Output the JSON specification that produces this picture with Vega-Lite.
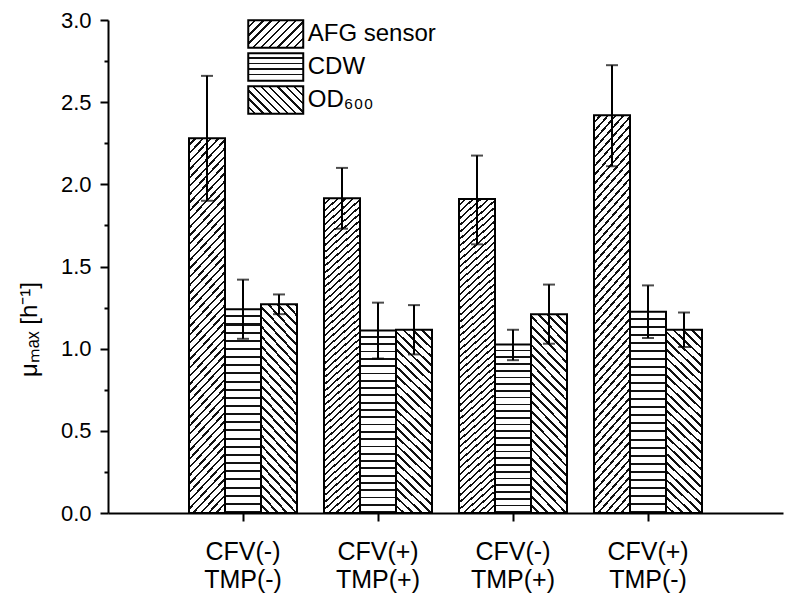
{
  "$schema": "https://vega.github.io/schema/vega-lite/v6.json",
  "width": 675,
  "height": 493,
  "autosize": {"type": "none"},
  "padding": {"left": 108, "top": 20, "right": 12, "bottom": 101},
  "background": "white",
  "config": {"view": {"stroke": null}, "font": "Liberation Sans"},
  "params": [
    {"name": "gAFG", "value": {"gradient": "linear", "x1": 0, "y1": 0, "x2": 0.1125, "y2": 1.0915, "stops": [
      {"offset":0,"color":"#fff"},{"offset":0.014,"color":"#fff"},{"offset":0.014,"color":"#111"},{"offset":0.02,"color":"#111"},
      {"offset":0.02,"color":"#fff"},{"offset":0.034,"color":"#fff"},{"offset":0.034,"color":"#111"},{"offset":0.04,"color":"#111"},
      {"offset":0.04,"color":"#fff"},{"offset":0.054,"color":"#fff"},{"offset":0.054,"color":"#111"},{"offset":0.06,"color":"#111"},
      {"offset":0.06,"color":"#fff"},{"offset":0.074,"color":"#fff"},{"offset":0.074,"color":"#111"},{"offset":0.08,"color":"#111"},
      {"offset":0.08,"color":"#fff"},{"offset":0.094,"color":"#fff"},{"offset":0.094,"color":"#111"},{"offset":0.1,"color":"#111"},
      {"offset":0.1,"color":"#fff"},{"offset":0.114,"color":"#fff"},{"offset":0.114,"color":"#111"},{"offset":0.12,"color":"#111"},
      {"offset":0.12,"color":"#fff"},{"offset":0.134,"color":"#fff"},{"offset":0.134,"color":"#111"},{"offset":0.14,"color":"#111"},
      {"offset":0.14,"color":"#fff"},{"offset":0.154,"color":"#fff"},{"offset":0.154,"color":"#111"},{"offset":0.16,"color":"#111"},
      {"offset":0.16,"color":"#fff"},{"offset":0.174,"color":"#fff"},{"offset":0.174,"color":"#111"},{"offset":0.18,"color":"#111"},
      {"offset":0.18,"color":"#fff"},{"offset":0.194,"color":"#fff"},{"offset":0.194,"color":"#111"},{"offset":0.2,"color":"#111"},
      {"offset":0.2,"color":"#fff"},{"offset":0.214,"color":"#fff"},{"offset":0.214,"color":"#111"},{"offset":0.22,"color":"#111"},
      {"offset":0.22,"color":"#fff"},{"offset":0.234,"color":"#fff"},{"offset":0.234,"color":"#111"},{"offset":0.24,"color":"#111"},
      {"offset":0.24,"color":"#fff"},{"offset":0.254,"color":"#fff"},{"offset":0.254,"color":"#111"},{"offset":0.26,"color":"#111"},
      {"offset":0.26,"color":"#fff"},{"offset":0.274,"color":"#fff"},{"offset":0.274,"color":"#111"},{"offset":0.28,"color":"#111"},
      {"offset":0.28,"color":"#fff"},{"offset":0.294,"color":"#fff"},{"offset":0.294,"color":"#111"},{"offset":0.3,"color":"#111"},
      {"offset":0.3,"color":"#fff"},{"offset":0.314,"color":"#fff"},{"offset":0.314,"color":"#111"},{"offset":0.32,"color":"#111"},
      {"offset":0.32,"color":"#fff"},{"offset":0.334,"color":"#fff"},{"offset":0.334,"color":"#111"},{"offset":0.34,"color":"#111"},
      {"offset":0.34,"color":"#fff"},{"offset":0.354,"color":"#fff"},{"offset":0.354,"color":"#111"},{"offset":0.36,"color":"#111"},
      {"offset":0.36,"color":"#fff"},{"offset":0.374,"color":"#fff"},{"offset":0.374,"color":"#111"},{"offset":0.38,"color":"#111"},
      {"offset":0.38,"color":"#fff"},{"offset":0.394,"color":"#fff"},{"offset":0.394,"color":"#111"},{"offset":0.4,"color":"#111"},
      {"offset":0.4,"color":"#fff"},{"offset":0.414,"color":"#fff"},{"offset":0.414,"color":"#111"},{"offset":0.42,"color":"#111"},
      {"offset":0.42,"color":"#fff"},{"offset":0.434,"color":"#fff"},{"offset":0.434,"color":"#111"},{"offset":0.44,"color":"#111"},
      {"offset":0.44,"color":"#fff"},{"offset":0.454,"color":"#fff"},{"offset":0.454,"color":"#111"},{"offset":0.46,"color":"#111"},
      {"offset":0.46,"color":"#fff"},{"offset":0.474,"color":"#fff"},{"offset":0.474,"color":"#111"},{"offset":0.48,"color":"#111"},
      {"offset":0.48,"color":"#fff"},{"offset":0.494,"color":"#fff"},{"offset":0.494,"color":"#111"},{"offset":0.5,"color":"#111"},
      {"offset":0.5,"color":"#fff"},{"offset":0.514,"color":"#fff"},{"offset":0.514,"color":"#111"},{"offset":0.52,"color":"#111"},
      {"offset":0.52,"color":"#fff"},{"offset":0.534,"color":"#fff"},{"offset":0.534,"color":"#111"},{"offset":0.54,"color":"#111"},
      {"offset":0.54,"color":"#fff"},{"offset":0.554,"color":"#fff"},{"offset":0.554,"color":"#111"},{"offset":0.56,"color":"#111"},
      {"offset":0.56,"color":"#fff"},{"offset":0.574,"color":"#fff"},{"offset":0.574,"color":"#111"},{"offset":0.58,"color":"#111"},
      {"offset":0.58,"color":"#fff"},{"offset":0.594,"color":"#fff"},{"offset":0.594,"color":"#111"},{"offset":0.6,"color":"#111"},
      {"offset":0.6,"color":"#fff"},{"offset":0.614,"color":"#fff"},{"offset":0.614,"color":"#111"},{"offset":0.62,"color":"#111"},
      {"offset":0.62,"color":"#fff"},{"offset":0.634,"color":"#fff"},{"offset":0.634,"color":"#111"},{"offset":0.64,"color":"#111"},
      {"offset":0.64,"color":"#fff"},{"offset":0.654,"color":"#fff"},{"offset":0.654,"color":"#111"},{"offset":0.66,"color":"#111"},
      {"offset":0.66,"color":"#fff"},{"offset":0.674,"color":"#fff"},{"offset":0.674,"color":"#111"},{"offset":0.68,"color":"#111"},
      {"offset":0.68,"color":"#fff"},{"offset":0.694,"color":"#fff"},{"offset":0.694,"color":"#111"},{"offset":0.7,"color":"#111"},
      {"offset":0.7,"color":"#fff"},{"offset":0.714,"color":"#fff"},{"offset":0.714,"color":"#111"},{"offset":0.72,"color":"#111"},
      {"offset":0.72,"color":"#fff"},{"offset":0.734,"color":"#fff"},{"offset":0.734,"color":"#111"},{"offset":0.74,"color":"#111"},
      {"offset":0.74,"color":"#fff"},{"offset":0.754,"color":"#fff"},{"offset":0.754,"color":"#111"},{"offset":0.76,"color":"#111"},
      {"offset":0.76,"color":"#fff"},{"offset":0.774,"color":"#fff"},{"offset":0.774,"color":"#111"},{"offset":0.78,"color":"#111"},
      {"offset":0.78,"color":"#fff"},{"offset":0.794,"color":"#fff"},{"offset":0.794,"color":"#111"},{"offset":0.8,"color":"#111"},
      {"offset":0.8,"color":"#fff"},{"offset":0.814,"color":"#fff"},{"offset":0.814,"color":"#111"},{"offset":0.82,"color":"#111"},
      {"offset":0.82,"color":"#fff"},{"offset":0.834,"color":"#fff"},{"offset":0.834,"color":"#111"},{"offset":0.84,"color":"#111"},
      {"offset":0.84,"color":"#fff"},{"offset":0.854,"color":"#fff"},{"offset":0.854,"color":"#111"},{"offset":0.86,"color":"#111"},
      {"offset":0.86,"color":"#fff"},{"offset":0.874,"color":"#fff"},{"offset":0.874,"color":"#111"},{"offset":0.88,"color":"#111"},
      {"offset":0.88,"color":"#fff"},{"offset":0.894,"color":"#fff"},{"offset":0.894,"color":"#111"},{"offset":0.9,"color":"#111"},
      {"offset":0.9,"color":"#fff"},{"offset":0.914,"color":"#fff"},{"offset":0.914,"color":"#111"},{"offset":0.92,"color":"#111"},
      {"offset":0.92,"color":"#fff"},{"offset":0.934,"color":"#fff"},{"offset":0.934,"color":"#111"},{"offset":0.94,"color":"#111"},
      {"offset":0.94,"color":"#fff"},{"offset":0.954,"color":"#fff"},{"offset":0.954,"color":"#111"},{"offset":0.96,"color":"#111"},
      {"offset":0.96,"color":"#fff"},{"offset":0.974,"color":"#fff"},{"offset":0.974,"color":"#111"},{"offset":0.98,"color":"#111"},
      {"offset":0.98,"color":"#fff"},{"offset":0.994,"color":"#fff"},{"offset":0.994,"color":"#111"},{"offset":1,"color":"#111"}
    ]}},
    {"name": "gCDW", "value": {"gradient": "linear", "x1": 0, "y1": 0, "x2": 0, "y2": 1, "stops": [
      {"offset":0,"color":"#fff"},{"offset":0.03,"color":"#fff"},{"offset":0.03,"color":"#111"},{"offset":0.04,"color":"#111"},
      {"offset":0.04,"color":"#fff"},{"offset":0.07,"color":"#fff"},{"offset":0.07,"color":"#111"},{"offset":0.08,"color":"#111"},
      {"offset":0.08,"color":"#fff"},{"offset":0.11,"color":"#fff"},{"offset":0.11,"color":"#111"},{"offset":0.12,"color":"#111"},
      {"offset":0.12,"color":"#fff"},{"offset":0.15,"color":"#fff"},{"offset":0.15,"color":"#111"},{"offset":0.16,"color":"#111"},
      {"offset":0.16,"color":"#fff"},{"offset":0.19,"color":"#fff"},{"offset":0.19,"color":"#111"},{"offset":0.2,"color":"#111"},
      {"offset":0.2,"color":"#fff"},{"offset":0.23,"color":"#fff"},{"offset":0.23,"color":"#111"},{"offset":0.24,"color":"#111"},
      {"offset":0.24,"color":"#fff"},{"offset":0.27,"color":"#fff"},{"offset":0.27,"color":"#111"},{"offset":0.28,"color":"#111"},
      {"offset":0.28,"color":"#fff"},{"offset":0.31,"color":"#fff"},{"offset":0.31,"color":"#111"},{"offset":0.32,"color":"#111"},
      {"offset":0.32,"color":"#fff"},{"offset":0.35,"color":"#fff"},{"offset":0.35,"color":"#111"},{"offset":0.36,"color":"#111"},
      {"offset":0.36,"color":"#fff"},{"offset":0.39,"color":"#fff"},{"offset":0.39,"color":"#111"},{"offset":0.4,"color":"#111"},
      {"offset":0.4,"color":"#fff"},{"offset":0.43,"color":"#fff"},{"offset":0.43,"color":"#111"},{"offset":0.44,"color":"#111"},
      {"offset":0.44,"color":"#fff"},{"offset":0.47,"color":"#fff"},{"offset":0.47,"color":"#111"},{"offset":0.48,"color":"#111"},
      {"offset":0.48,"color":"#fff"},{"offset":0.51,"color":"#fff"},{"offset":0.51,"color":"#111"},{"offset":0.52,"color":"#111"},
      {"offset":0.52,"color":"#fff"},{"offset":0.55,"color":"#fff"},{"offset":0.55,"color":"#111"},{"offset":0.56,"color":"#111"},
      {"offset":0.56,"color":"#fff"},{"offset":0.59,"color":"#fff"},{"offset":0.59,"color":"#111"},{"offset":0.6,"color":"#111"},
      {"offset":0.6,"color":"#fff"},{"offset":0.63,"color":"#fff"},{"offset":0.63,"color":"#111"},{"offset":0.64,"color":"#111"},
      {"offset":0.64,"color":"#fff"},{"offset":0.67,"color":"#fff"},{"offset":0.67,"color":"#111"},{"offset":0.68,"color":"#111"},
      {"offset":0.68,"color":"#fff"},{"offset":0.71,"color":"#fff"},{"offset":0.71,"color":"#111"},{"offset":0.72,"color":"#111"},
      {"offset":0.72,"color":"#fff"},{"offset":0.75,"color":"#fff"},{"offset":0.75,"color":"#111"},{"offset":0.76,"color":"#111"},
      {"offset":0.76,"color":"#fff"},{"offset":0.79,"color":"#fff"},{"offset":0.79,"color":"#111"},{"offset":0.8,"color":"#111"},
      {"offset":0.8,"color":"#fff"},{"offset":0.83,"color":"#fff"},{"offset":0.83,"color":"#111"},{"offset":0.84,"color":"#111"},
      {"offset":0.84,"color":"#fff"},{"offset":0.87,"color":"#fff"},{"offset":0.87,"color":"#111"},{"offset":0.88,"color":"#111"},
      {"offset":0.88,"color":"#fff"},{"offset":0.91,"color":"#fff"},{"offset":0.91,"color":"#111"},{"offset":0.92,"color":"#111"},
      {"offset":0.92,"color":"#fff"},{"offset":0.95,"color":"#fff"},{"offset":0.95,"color":"#111"},{"offset":0.96,"color":"#111"},
      {"offset":0.96,"color":"#fff"},{"offset":0.99,"color":"#fff"},{"offset":0.99,"color":"#111"},{"offset":1,"color":"#111"}
    ]}},
    {"name": "gOD", "value": {"gradient": "linear", "x1": 0, "y1": 1, "x2": 0.2139, "y2": -0.1467, "stops": [
      {"offset":0,"color":"#fff"},{"offset":0.028,"color":"#fff"},{"offset":0.028,"color":"#111"},{"offset":0.04,"color":"#111"},
      {"offset":0.04,"color":"#fff"},{"offset":0.068,"color":"#fff"},{"offset":0.068,"color":"#111"},{"offset":0.08,"color":"#111"},
      {"offset":0.08,"color":"#fff"},{"offset":0.108,"color":"#fff"},{"offset":0.108,"color":"#111"},{"offset":0.12,"color":"#111"},
      {"offset":0.12,"color":"#fff"},{"offset":0.148,"color":"#fff"},{"offset":0.148,"color":"#111"},{"offset":0.16,"color":"#111"},
      {"offset":0.16,"color":"#fff"},{"offset":0.188,"color":"#fff"},{"offset":0.188,"color":"#111"},{"offset":0.2,"color":"#111"},
      {"offset":0.2,"color":"#fff"},{"offset":0.228,"color":"#fff"},{"offset":0.228,"color":"#111"},{"offset":0.24,"color":"#111"},
      {"offset":0.24,"color":"#fff"},{"offset":0.268,"color":"#fff"},{"offset":0.268,"color":"#111"},{"offset":0.28,"color":"#111"},
      {"offset":0.28,"color":"#fff"},{"offset":0.308,"color":"#fff"},{"offset":0.308,"color":"#111"},{"offset":0.32,"color":"#111"},
      {"offset":0.32,"color":"#fff"},{"offset":0.348,"color":"#fff"},{"offset":0.348,"color":"#111"},{"offset":0.36,"color":"#111"},
      {"offset":0.36,"color":"#fff"},{"offset":0.388,"color":"#fff"},{"offset":0.388,"color":"#111"},{"offset":0.4,"color":"#111"},
      {"offset":0.4,"color":"#fff"},{"offset":0.428,"color":"#fff"},{"offset":0.428,"color":"#111"},{"offset":0.44,"color":"#111"},
      {"offset":0.44,"color":"#fff"},{"offset":0.468,"color":"#fff"},{"offset":0.468,"color":"#111"},{"offset":0.48,"color":"#111"},
      {"offset":0.48,"color":"#fff"},{"offset":0.508,"color":"#fff"},{"offset":0.508,"color":"#111"},{"offset":0.52,"color":"#111"},
      {"offset":0.52,"color":"#fff"},{"offset":0.548,"color":"#fff"},{"offset":0.548,"color":"#111"},{"offset":0.56,"color":"#111"},
      {"offset":0.56,"color":"#fff"},{"offset":0.588,"color":"#fff"},{"offset":0.588,"color":"#111"},{"offset":0.6,"color":"#111"},
      {"offset":0.6,"color":"#fff"},{"offset":0.628,"color":"#fff"},{"offset":0.628,"color":"#111"},{"offset":0.64,"color":"#111"},
      {"offset":0.64,"color":"#fff"},{"offset":0.668,"color":"#fff"},{"offset":0.668,"color":"#111"},{"offset":0.68,"color":"#111"},
      {"offset":0.68,"color":"#fff"},{"offset":0.708,"color":"#fff"},{"offset":0.708,"color":"#111"},{"offset":0.72,"color":"#111"},
      {"offset":0.72,"color":"#fff"},{"offset":0.748,"color":"#fff"},{"offset":0.748,"color":"#111"},{"offset":0.76,"color":"#111"},
      {"offset":0.76,"color":"#fff"},{"offset":0.788,"color":"#fff"},{"offset":0.788,"color":"#111"},{"offset":0.8,"color":"#111"},
      {"offset":0.8,"color":"#fff"},{"offset":0.828,"color":"#fff"},{"offset":0.828,"color":"#111"},{"offset":0.84,"color":"#111"},
      {"offset":0.84,"color":"#fff"},{"offset":0.868,"color":"#fff"},{"offset":0.868,"color":"#111"},{"offset":0.88,"color":"#111"},
      {"offset":0.88,"color":"#fff"},{"offset":0.908,"color":"#fff"},{"offset":0.908,"color":"#111"},{"offset":0.92,"color":"#111"},
      {"offset":0.92,"color":"#fff"},{"offset":0.948,"color":"#fff"},{"offset":0.948,"color":"#111"},{"offset":0.96,"color":"#111"},
      {"offset":0.96,"color":"#fff"},{"offset":0.988,"color":"#fff"},{"offset":0.988,"color":"#111"},{"offset":1,"color":"#111"}
    ]}},
    {"name": "lAFG", "value": {"gradient": "linear", "x1": 0, "y1": 0, "x2": 1.2, "y2": 0.6, "stops": [
      {"offset":0,"color":"#fff"},{"offset":0.07,"color":"#fff"},{"offset":0.07,"color":"#111"},{"offset":0.1,"color":"#111"},
      {"offset":0.1,"color":"#fff"},{"offset":0.17,"color":"#fff"},{"offset":0.17,"color":"#111"},{"offset":0.2,"color":"#111"},
      {"offset":0.2,"color":"#fff"},{"offset":0.27,"color":"#fff"},{"offset":0.27,"color":"#111"},{"offset":0.3,"color":"#111"},
      {"offset":0.3,"color":"#fff"},{"offset":0.37,"color":"#fff"},{"offset":0.37,"color":"#111"},{"offset":0.4,"color":"#111"},
      {"offset":0.4,"color":"#fff"},{"offset":0.47,"color":"#fff"},{"offset":0.47,"color":"#111"},{"offset":0.5,"color":"#111"},
      {"offset":0.5,"color":"#fff"},{"offset":0.57,"color":"#fff"},{"offset":0.57,"color":"#111"},{"offset":0.6,"color":"#111"},
      {"offset":0.6,"color":"#fff"},{"offset":0.67,"color":"#fff"},{"offset":0.67,"color":"#111"},{"offset":0.7,"color":"#111"},
      {"offset":0.7,"color":"#fff"},{"offset":0.77,"color":"#fff"},{"offset":0.77,"color":"#111"},{"offset":0.8,"color":"#111"},
      {"offset":0.8,"color":"#fff"},{"offset":0.87,"color":"#fff"},{"offset":0.87,"color":"#111"},{"offset":0.9,"color":"#111"},
      {"offset":0.9,"color":"#fff"},{"offset":0.97,"color":"#fff"},{"offset":0.97,"color":"#111"},{"offset":1,"color":"#111"}
    ]}},
    {"name": "lCDW", "value": {"gradient": "linear", "x1": 0, "y1": 0, "x2": 0, "y2": 1, "stops": [
      {"offset":0,"color":"#fff"},{"offset":0.15,"color":"#fff"},{"offset":0.15,"color":"#111"},{"offset":0.2,"color":"#111"},
      {"offset":0.2,"color":"#fff"},{"offset":0.35,"color":"#fff"},{"offset":0.35,"color":"#111"},{"offset":0.4,"color":"#111"},
      {"offset":0.4,"color":"#fff"},{"offset":0.55,"color":"#fff"},{"offset":0.55,"color":"#111"},{"offset":0.6,"color":"#111"},
      {"offset":0.6,"color":"#fff"},{"offset":0.75,"color":"#fff"},{"offset":0.75,"color":"#111"},{"offset":0.8,"color":"#111"},
      {"offset":0.8,"color":"#fff"},{"offset":1,"color":"#fff"}
    ]}},
    {"name": "lOD", "value": {"gradient": "linear", "x1": 0, "y1": 1, "x2": 1.2, "y2": 0.4, "stops": [
      {"offset":0,"color":"#fff"},{"offset":0.07,"color":"#fff"},{"offset":0.07,"color":"#111"},{"offset":0.1,"color":"#111"},
      {"offset":0.1,"color":"#fff"},{"offset":0.17,"color":"#fff"},{"offset":0.17,"color":"#111"},{"offset":0.2,"color":"#111"},
      {"offset":0.2,"color":"#fff"},{"offset":0.27,"color":"#fff"},{"offset":0.27,"color":"#111"},{"offset":0.3,"color":"#111"},
      {"offset":0.3,"color":"#fff"},{"offset":0.37,"color":"#fff"},{"offset":0.37,"color":"#111"},{"offset":0.4,"color":"#111"},
      {"offset":0.4,"color":"#fff"},{"offset":0.47,"color":"#fff"},{"offset":0.47,"color":"#111"},{"offset":0.5,"color":"#111"},
      {"offset":0.5,"color":"#fff"},{"offset":0.57,"color":"#fff"},{"offset":0.57,"color":"#111"},{"offset":0.6,"color":"#111"},
      {"offset":0.6,"color":"#fff"},{"offset":0.67,"color":"#fff"},{"offset":0.67,"color":"#111"},{"offset":0.7,"color":"#111"},
      {"offset":0.7,"color":"#fff"},{"offset":0.77,"color":"#fff"},{"offset":0.77,"color":"#111"},{"offset":0.8,"color":"#111"},
      {"offset":0.8,"color":"#fff"},{"offset":0.87,"color":"#fff"},{"offset":0.87,"color":"#111"},{"offset":0.9,"color":"#111"},
      {"offset":0.9,"color":"#fff"},{"offset":0.97,"color":"#fff"},{"offset":0.97,"color":"#111"},{"offset":1,"color":"#111"}
    ]}}
  ],
  "data": {"values": [
    {"group": "CFV(-) TMP(-)", "series": "AFG sensor", "value": 2.28, "lo": 1.90, "hi": 2.66},
    {"group": "CFV(-) TMP(-)", "series": "CDW", "value": 1.24, "lo": 1.06, "hi": 1.42},
    {"group": "CFV(-) TMP(-)", "series": "OD₆₀₀", "value": 1.27, "lo": 1.21, "hi": 1.33},
    {"group": "CFV(+) TMP(+)", "series": "AFG sensor", "value": 1.915, "lo": 1.73, "hi": 2.10},
    {"group": "CFV(+) TMP(+)", "series": "CDW", "value": 1.11, "lo": 0.94, "hi": 1.28},
    {"group": "CFV(+) TMP(+)", "series": "OD₆₀₀", "value": 1.115, "lo": 0.965, "hi": 1.265},
    {"group": "CFV(-) TMP(+)", "series": "AFG sensor", "value": 1.91, "lo": 1.635, "hi": 2.175},
    {"group": "CFV(-) TMP(+)", "series": "CDW", "value": 1.025, "lo": 0.93, "hi": 1.115},
    {"group": "CFV(-) TMP(+)", "series": "OD₆₀₀", "value": 1.21, "lo": 1.03, "hi": 1.39},
    {"group": "CFV(+) TMP(-)", "series": "AFG sensor", "value": 2.42, "lo": 2.11, "hi": 2.725},
    {"group": "CFV(+) TMP(-)", "series": "CDW", "value": 1.225, "lo": 1.065, "hi": 1.385},
    {"group": "CFV(+) TMP(-)", "series": "OD₆₀₀", "value": 1.115, "lo": 1.01, "hi": 1.22}
  ]},
  "encoding": {
    "x": {
      "field": "group", "type": "nominal", "sort": null,
      "scale": {"paddingInner": 0, "paddingOuter": 0.5},
      "axis": {
        "title": null, "labelAngle": 0, "labelExpr": "split(datum.label, ' ')",
        "labelFontSize": 25, "labelColor": "black", "labelLineHeight": 28,
        "labelPadding": 18, "labelBaseline": "top", "tickSize": 8, "tickColor": "black", "tickWidth": 2,
        "domainColor": "black", "domainWidth": 2, "bandPosition": 0.5, "labelOverlap": false
      }
    },
    "xOffset": {
      "field": "series", "type": "nominal", "sort": null,
      "scale": {"domain": ["AFG sensor", "CDW", "OD₆₀₀"], "paddingInner": 0, "paddingOuter": 0.375}
    }
  },
  "resolve": {"scale": {"fill": "independent"}, "legend": {"fill": "independent"}},
  "layer": [
    {
      "mark": {"type": "bar", "stroke": "black", "strokeWidth": 2},
      "encoding": {
        "y": {
          "field": "value", "type": "quantitative",
          "scale": {"domain": [0, 3], "nice": false},
          "axis": {
            "title": "μₘₐₓ [h⁻¹]",
            "values": [0, 0.25, 0.5, 0.75, 1, 1.25, 1.5, 1.75, 2, 2.25, 2.5, 2.75, 3],
            "labelExpr": "datum.value % 0.5 === 0 ? format(datum.value, '.1f') : ''",
            "tickSize": {"condition": {"test": "datum.value % 0.5 !== 0", "value": 4}, "value": 8},
            "labelFontSize": 22, "labelColor": "black", "labelPadding": 9,
            "domainColor": "black", "domainWidth": 2, "tickColor": "black", "tickWidth": 2,
            "grid": false, "titleFontSize": 24, "titleFontWeight": "normal", "titleColor": "black",
            "titleX": -72, "titleY": 309, "titleBaseline": "alphabetic", "titleAngle": -90
          }
        },
        "fill": {
          "field": "series", "type": "nominal", "sort": null,
          "scale": {"domain": ["AFG sensor", "CDW", "OD₆₀₀"], "range": [{"expr": "gAFG"}, {"expr": "gCDW"}, {"expr": "gOD"}]},
          "legend": null
        }
      }
    },
    {
      "mark": {"type": "rule", "color": "black", "strokeWidth": 2},
      "encoding": {
        "y": {"field": "lo", "type": "quantitative", "scale": {"domain": [0, 3], "nice": false}},
        "y2": {"field": "hi"}
      }
    },
    {
      "mark": {"type": "tick", "color": "black", "thickness": 2, "size": 12, "orient": "horizontal"},
      "encoding": {
        "y": {"field": "hi", "type": "quantitative", "scale": {"domain": [0, 3], "nice": false}}
      }
    },
    {
      "mark": {"type": "tick", "color": "black", "thickness": 2, "size": 12, "orient": "horizontal"},
      "encoding": {
        "y": {"field": "lo", "type": "quantitative", "scale": {"domain": [0, 3], "nice": false}}
      }
    },
    {
      "mark": {"type": "point", "filled": true, "size": 0, "opacity": 1},
      "encoding": {
        "y": {"field": "value", "type": "quantitative", "scale": {"domain": [0, 3], "nice": false}},
        "fill": {
          "field": "series", "type": "nominal", "sort": null,
          "scale": {"domain": ["AFG sensor", "CDW", "OD₆₀₀"], "range": [{"expr": "lAFG"}, {"expr": "lCDW"}, {"expr": "lOD"}]},
          "legend": {
            "orient": "none", "legendX": 152.75, "legendY": -1, "title": null, "padding": 0,
            "symbolType": "M-2,-1H2V1H-2Z", "symbolSize": 756, "symbolOpacity": 1,
            "symbolStrokeColor": "black", "symbolStrokeWidth": 2,
            "labelFontSize": 24, "labelColor": "black", "labelOffset": 17, "rowPadding": -6.5, "labelLimit": 0
          }
        }
      }
    }
  ]
}
